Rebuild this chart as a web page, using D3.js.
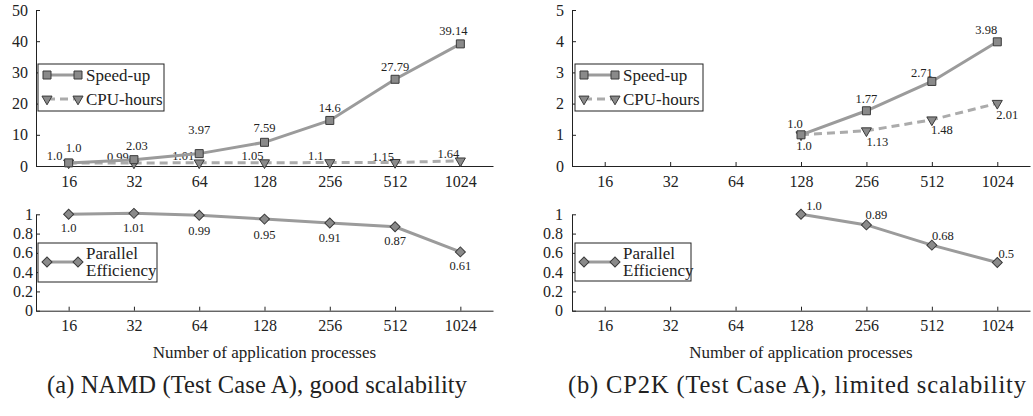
<!DOCTYPE html>
<html>
<head>
<meta charset="utf-8">
<script src="https://cdn.jsdelivr.net/npm/d3@7"></script>
<style>
  body { margin: 0; background: #fff; }
  text { font-family: "Liberation Serif", "Times New Roman", serif; fill: #222; }
</style>
</head>
<body>
<script>
// processes on the x axis
const procs = ["16", "32", "64", "128", "256", "512", "1024"];

// (a) NAMD
const namdSpeedup = [1.0, 2.03, 3.97, 7.59, 14.6, 27.79, 39.14];
const namdCpuHours = [1.0, 0.99, 1.01, 1.05, 1.1, 1.15, 1.64];
const namdEfficiency = [1.0, 1.01, 0.99, 0.95, 0.91, 0.87, 0.61];

// (b) CP2K, only from 128 on
const cp2kSpeedup = [null, null, null, 1.0, 1.77, 2.71, 3.98];
const cp2kCpuHours = [null, null, null, 1.0, 1.13, 1.48, 2.01];
const cp2kEfficiency = [null, null, null, 1.0, 0.89, 0.68, 0.5];

const namdTicks = [0, 10, 20, 30, 40, 50];
const cp2kTicks = [0, 1, 2, 3, 4, 5];
const effTicks = [0, 0.2, 0.4, 0.6, 0.8, 1];

const captions = ["(a) NAMD (Test Case A), good scalability", "(b) CP2K (Test Case A), limited scalability"];

// label nudges (px) so the numbers sit like in the paper
const namdSpeedOff = [[5, -15], [3, -14], [0, -24], [0, -15], [0, -13], [0, -13], [-7, -13]];
const namdCpuOff = [[-14, -7], [-16, -6], [-16, -7], [-12, -7], [-14, -7], [-12, -6], [-12, -7]];
const namdEffOff = [[0, 13.5], [0, 14.5], [0, 15.5], [0, 15.5], [0, 14.7], [0, 14], [0, 14]];
const cp2kSpeedOff = [null, null, null, [-6, -11], [0, -12], [-10, -9], [-11, -12]];
const cp2kCpuOff = [null, null, null, [3, 11], [11, 11], [10, 10], [10, 11]];
const cp2kEffOff = [null, null, null, [13, -9], [10, -10], [11, -10], [9, -9]];

const width = 1033;
const height = 416;
const lineColor = "#9b9b9b";
const dashColor = "#ababab";
const markFill = "#8a8a8a";
const markStroke = "#3a3a3a";

const svg = d3.select("body").append("svg")
  .attr("width", width).attr("height", height);

const fmt = v => Number.isInteger(v) ? v.toFixed(1) : String(v);

const shapes = {
  square: d3.symbol(d3.symbolSquare, 64),
  triangle: d3.symbol(d3.symbolTriangle, 44),
  diamond: d3.symbol(d3.symbolSquare, 50)
};
const rot = {square: 0, triangle: 180, diamond: 45};

function marker(g, kind, cx, cy) {
  g.append("path")
    .attr("d", shapes[kind]())
    .attr("transform", `translate(${cx},${cy}) rotate(${rot[kind]})`)
    .attr("fill", markFill)
    .attr("stroke", markStroke)
    .attr("stroke-width", 1);
}

function subplot(xRange, yRange, yDomain, yTicks, yPad) {
  const x = d3.scalePoint().domain(procs).range(xRange).padding(0.5);
  const y = d3.scaleLinear().domain(yDomain).range(yRange);
  const g = svg.append("g");

  g.append("g")
    .attr("transform", `translate(0,${yRange[0]})`)
    .call(d3.axisBottom(x).tickSizeInner(-4).tickSizeOuter(0))
    .call(a => a.select(".domain").attr("stroke", "#222"))
    .call(a => a.selectAll(".tick line").attr("stroke", "#222"))
    .call(a => a.selectAll(".tick text")
      .attr("y", 15).attr("dy", "0.35em")
      .attr("font-size", 16).attr("font-family", null).attr("fill", "#222"));

  g.append("g")
    .attr("transform", `translate(${xRange[0]},0)`)
    .call(d3.axisLeft(y).tickValues(yTicks).tickFormat(d3.format("~g"))
      .tickSizeInner(-4).tickSizeOuter(0).tickPadding(yPad))
    .call(a => a.select(".domain").attr("stroke", "#222"))
    .call(a => a.selectAll(".tick line").attr("stroke", "#222"))
    .call(a => a.selectAll(".tick text")
      .attr("font-size", 16).attr("font-family", null).attr("fill", "#222"));

  return {x, y, g};
}

function series(p, values, kind, dashed, offsets) {
  const pts = procs.map((k, i) => ({k, v: values[i], off: offsets[i]}));
  const line = d3.line()
    .defined(d => d.v != null)
    .x(d => p.x(d.k))
    .y(d => p.y(d.v));

  p.g.append("path")
    .datum(pts)
    .attr("fill", "none")
    .attr("stroke", dashed ? dashColor : lineColor)
    .attr("stroke-width", 3)
    .attr("stroke-dasharray", dashed ? "8,5" : null)
    .attr("d", line);

  pts.filter(d => d.v != null).forEach(d => {
    marker(p.g, kind, p.x(d.k), p.y(d.v));
    p.g.append("text")
      .attr("x", p.x(d.k) + d.off[0])
      .attr("y", p.y(d.v) + d.off[1])
      .attr("dy", "0.35em")
      .attr("text-anchor", "middle")
      .attr("font-size", 12.5)
      .text(fmt(d.v));
  });
}

function legend(x0, y0, w, h, items) {
  const g = svg.append("g");
  g.append("rect")
    .attr("x", x0).attr("y", y0).attr("width", w).attr("height", h)
    .attr("fill", "#fff").attr("stroke", "#222").attr("stroke-width", 1);
  items.forEach(it => {
    g.append("line")
      .attr("x1", x0 + 9).attr("x2", x0 + 40)
      .attr("y1", y0 + it.dy).attr("y2", y0 + it.dy)
      .attr("stroke", it.dashed ? dashColor : lineColor)
      .attr("stroke-width", 3)
      .attr("stroke-dasharray", it.dashed ? "8,5" : null);
    marker(g, it.kind, x0 + 9, y0 + it.dy);
    marker(g, it.kind, x0 + 40, y0 + it.dy);
    it.text.forEach((t, j) => {
      g.append("text")
        .attr("x", x0 + 48)
        .attr("y", y0 + it.dy + (it.text.length > 1 ? (j ? 8.5 : -8.5) : 0))
        .attr("dy", "0.35em")
        .attr("font-size", 17)
        .text(t);
    });
  });
}

// (a) NAMD
const aTop = subplot([36, 493], [166, 10], [0, 50], namdTicks, 8);
series(aTop, namdCpuHours, "triangle", true, namdCpuOff);
series(aTop, namdSpeedup, "square", false, namdSpeedOff);
legend(38, 64, 126, 47, [
  {kind: "square", dashed: false, dy: 11, text: ["Speed-up"]},
  {kind: "triangle", dashed: true, dy: 35, text: ["CPU-hours"]}
]);

const aBot = subplot([36, 493], [310.7, 214.3], [0, 1], effTicks, 3);
series(aBot, namdEfficiency, "diamond", false, namdEffOff);
legend(38, 243, 119, 39, [
  {kind: "diamond", dashed: false, dy: 19, text: ["Parallel", "Efficiency"]}
]);

// (b) CP2K
const bTop = subplot([572, 1030], [166, 10], [0, 5], cp2kTicks, 8);
series(bTop, cp2kCpuHours, "triangle", true, cp2kCpuOff);
series(bTop, cp2kSpeedup, "square", false, cp2kSpeedOff);
legend(575, 64, 128, 47, [
  {kind: "square", dashed: false, dy: 11, text: ["Speed-up"]},
  {kind: "triangle", dashed: true, dy: 35, text: ["CPU-hours"]}
]);

const bBot = subplot([572, 1030], [310.7, 214.3], [0, 1], effTicks, 9);
series(bBot, cp2kEfficiency, "diamond", false, cp2kEffOff);
legend(575, 243, 116, 38, [
  {kind: "diamond", dashed: false, dy: 19, text: ["Parallel", "Efficiency"]}
]);

// axis titles and sub captions
[264.5, 801].forEach(cx => {
  svg.append("text")
    .attr("x", cx).attr("y", 352).attr("dy", "0.35em")
    .attr("text-anchor", "middle").attr("font-size", 17)
    .text("Number of application processes");
});

[[257, 420, captions[0]], [797, 458, captions[1]]].forEach(([cx, len, t]) => {
  svg.append("text")
    .attr("x", cx).attr("y", 384).attr("dy", "0.35em")
    .attr("text-anchor", "middle").attr("font-size", 24.5)
    .attr("textLength", len).attr("lengthAdjust", "spacing")
    .text(t);
});
</script>
</body>
</html>
